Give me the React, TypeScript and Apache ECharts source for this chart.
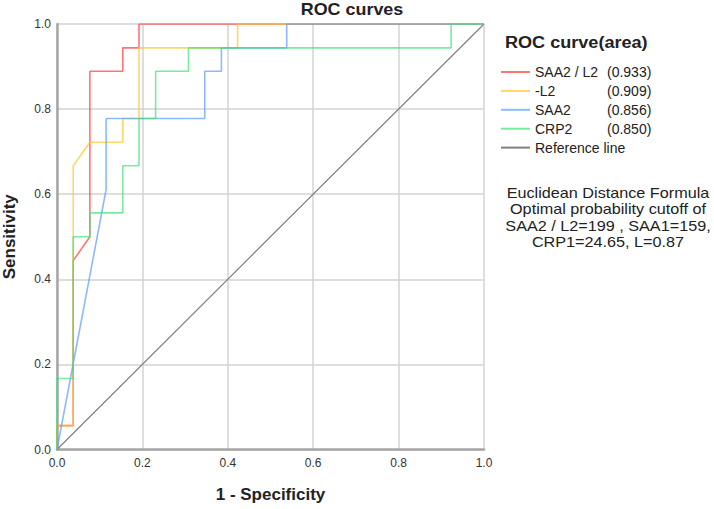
import React, { useEffect, useRef } from "react";
import * as echarts from "echarts";

const FONT = "'Liberation Sans', Arial, sans-serif";

const seriesNames = ["SAA2 / L2", "-L2", "SAA2", "CRP2"];
const areaLabels = ["(0.933)", "(0.909)", "(0.856)", "(0.850)"];
const refName = "Reference line";

const saaL2Fpr = [0, 0, 0.038, 0.038, 0.077, 0.077, 0.154, 0.154, 0.192, 0.192, 1];
const saaL2Tpr = [0, 0.056, 0.056, 0.444, 0.5, 0.889, 0.889, 0.944, 0.944, 1, 1];

const l2Fpr = [0, 0, 0.038, 0.038, 0.077, 0.154, 0.154, 0.192, 0.192, 0.423, 0.423, 1];
const l2Tpr = [0, 0.056, 0.056, 0.667, 0.722, 0.722, 0.778, 0.778, 0.944, 0.944, 1, 1];

const saaFpr = [0, 0.115, 0.115, 0.346, 0.346, 0.385, 0.385, 0.538, 0.538, 1];
const saaTpr = [0, 0.611, 0.778, 0.778, 0.889, 0.889, 0.944, 0.944, 1, 1];

const crpFpr = [0, 0, 0.038, 0.038, 0.077, 0.077, 0.154, 0.154, 0.192, 0.192, 0.231, 0.231, 0.308, 0.308, 0.923, 0.923, 1];
const crpTpr = [0, 0.167, 0.167, 0.5, 0.5, 0.556, 0.556, 0.667, 0.667, 0.778, 0.778, 0.889, 0.889, 0.944, 0.944, 1, 1];

const refFpr = [0, 1];
const refTpr = [0, 1];

const axisTicks = [0, 0.2, 0.4, 0.6, 0.8, 1.0];

const noteLines = [
  "Euclidean Distance Formula",
  "Optimal probability cutoff of",
  "SAA2 / L2=199 , SAA1=159,",
  "CRP1=24.65, L=0.87",
];

const colors = ["#ff3b3b", "#ffc629", "#5b9bff", "#3fe276"];

function zip(xs: number[], ys: number[]) {
  return xs.map((x, i) => [x, ys[i]]);
}

export default function App() {
  const ref = useRef<HTMLDivElement>(null);
  useEffect(() => {
    if (!ref.current) return;
    const chart = echarts.init(ref.current, null, { renderer: "svg" });
    const curves = [
      zip(saaL2Fpr, saaL2Tpr),
      zip(l2Fpr, l2Tpr),
      zip(saaFpr, saaTpr),
      zip(crpFpr, crpTpr),
    ];
    const series: any[] = curves.map((d, i) => ({
      name: seriesNames[i],
      type: "line",
      data: d,
      showSymbol: false,
      symbol: "none",
      lineStyle: { color: colors[i], width: 1.6, opacity: 0.7 },
      itemStyle: { color: colors[i], opacity: 0.7 },
      z: 3 + i,
    }));
    series.push({
      name: refName,
      type: "line",
      data: zip(refFpr, refTpr),
      showSymbol: false,
      symbol: "none",
      lineStyle: { color: "#808080", width: 1.2 },
      itemStyle: { color: "#808080" },
      z: 2,
    });
    const axisCommon = {
      type: "value",
      min: axisTicks[0],
      max: axisTicks[axisTicks.length - 1],
      interval: 0.2,
      axisLine: { show: true, lineStyle: { color: "#a6a6a6", width: 2.5 } },
      axisTick: { show: false },
      splitLine: { show: true, lineStyle: { color: "#d3d3d3", width: 1.5 } },
      axisLabel: {
        color: "#333",
        fontSize: 12,
        fontFamily: FONT,
        formatter: (v: number) => v.toFixed(1),
      },
      nameLocation: "middle",
      nameTextStyle: { color: "#222", fontSize: 17, fontWeight: "bold", fontFamily: FONT },
    };
    chart.setOption({
      animation: false,
      grid: { left: 57, right: 230, top: 24, bottom: 59.5, outerBoundsMode: "none", containLabel: false },
      xAxis: {
        ...axisCommon,
        name: "1 - Specificity",
        nameGap: 36,
        axisLabel: { ...axisCommon.axisLabel, margin: 7 },
      },
      yAxis: {
        ...axisCommon,
        name: "Sensitivity",
        nameGap: 39,
        axisLabel: { ...axisCommon.axisLabel, margin: 6 },
      },
      legend: {
        orient: "vertical",
        left: 501,
        top: 65,
        padding: 0,
        icon: "rect",
        itemWidth: 29,
        itemHeight: 2,
        itemGap: 4.9,
        data: [...seriesNames, refName],
        textStyle: {
          color: "#222",
          fontSize: 14,
          lineHeight: 14,
          fontFamily: FONT,
          rich: {
            n: { width: 72, fontSize: 14, lineHeight: 14, fontFamily: FONT, color: "#222" },
            v: { fontSize: 14, lineHeight: 14, fontFamily: FONT, color: "#222" },
          },
        },
        formatter: (name: string) => {
          const i = seriesNames.indexOf(name);
          if (i < 0) return name;
          return `{n|${name}}{v|${areaLabels[i]}}`;
        },
      },
      graphic: [
        {
          type: "text",
          x: 352,
          y: 2,
          scaleX: 1.12,
          style: {
            text: "ROC curves",
            font: `bold 16px ${FONT}`,
            fill: "#222",
            align: "center",
          },
        },
        {
          type: "text",
          x: 505,
          y: 35,
          scaleX: 1.13,
          style: {
            text: "ROC curve(area)",
            font: `bold 16px ${FONT}`,
            fill: "#222",
          },
        },
        {
          type: "text",
          x: 608,
          y: 184,
          scaleX: 1.08,
          style: {
            text: noteLines.join("\n"),
            font: `15px ${FONT}`,
            fill: "#222",
            align: "center",
            lineHeight: 16.5,
          },
        },
      ],
      series,
    });
    return () => chart.dispose();
  }, []);
  return (
    <div
      ref={ref}
      style={{ position: "fixed", left: 0, top: 0, width: 714, height: 509, background: "#fff" }}
    />
  );
}
